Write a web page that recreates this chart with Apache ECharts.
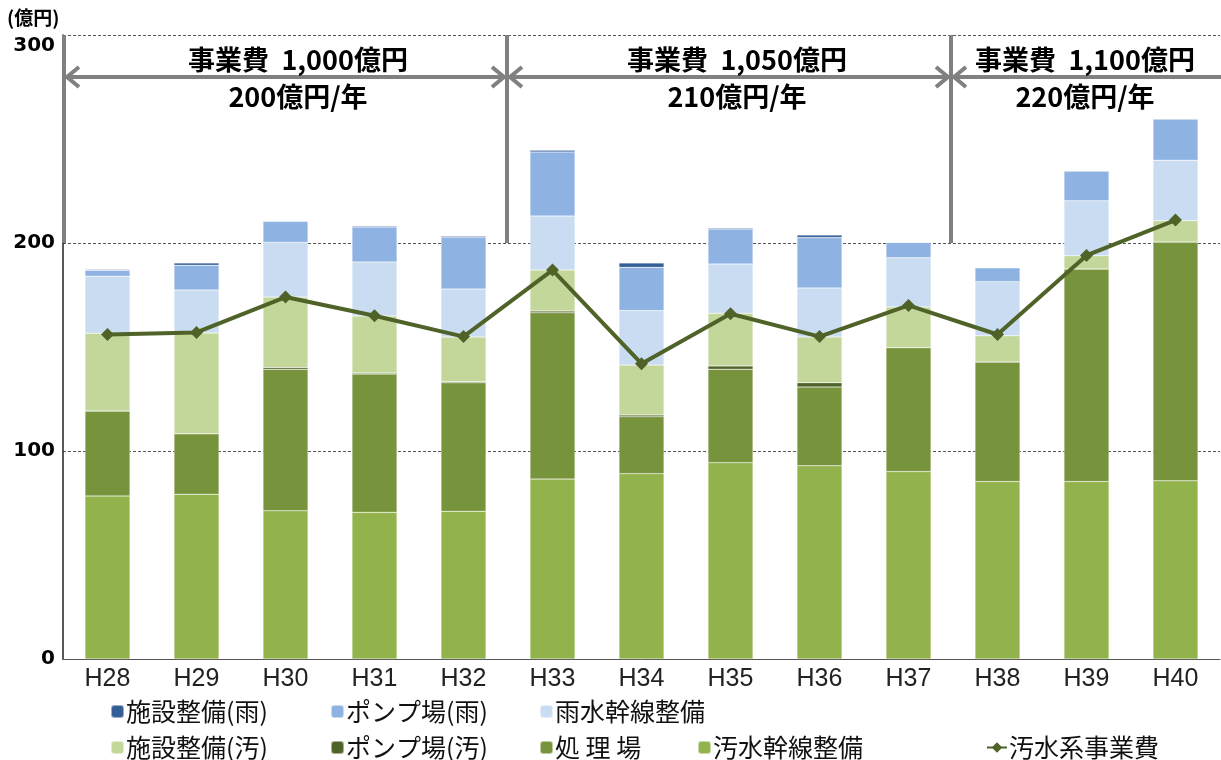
<!DOCTYPE html>
<html>
<head>
<meta charset="utf-8">
<script src="https://cdn.jsdelivr.net/npm/echarts@6/dist/echarts.min.js"></script>
<style>html,body{margin:0;padding:0;background:#fff;}#c{width:1221px;height:760px;}</style>
</head>
<body>
<div id="c"></div>
<script>
const categories = ['H28','H29','H30','H31','H32','H33','H34','H35','H36','H37','H38','H39','H40'];
const yTicks = [0, 100, 200, 300];
const sewerTrunk   = [78.4, 79.2, 71.3, 70.5, 71.0, 86.5, 89.1, 94.4, 92.9, 90.1, 85.3, 85.3, 85.7]; // 汚水幹線整備
const treatment    = [40.8, 29.1, 68.0, 66.5, 61.8, 80.0, 27.4, 44.9, 37.9, 59.6, 57.5, 102.2, 114.8]; // 処理場
const pumpSewer    = [0, 0, 0.8, 0.5, 0.5, 0.8, 0.8, 1.6, 2.0, 0, 0, 0, 0]; // ポンプ場(汚)
const facSewer     = [37.4, 48.4, 33.9, 27.4, 21.5, 19.7, 24.0, 25.3, 22.0, 19.5, 12.6, 6.4, 10.2]; // 施設整備(汚)
const rainTrunk    = [27.4, 20.7, 26.3, 26.0, 23.1, 26.0, 26.2, 23.7, 23.6, 23.7, 26.0, 26.4, 29.1]; // 雨水幹線整備
const pumpRain     = [2.9, 11.9, 10.1, 16.8, 24.8, 30.8, 20.8, 16.8, 24.2, 7.4, 6.7, 14.3, 19.8]; // ポンプ場(雨)
const facRain      = [0.4, 1.1, 0, 0.5, 0.5, 0.8, 2.1, 0.5, 1.2, 0, 0, 0, 0]; // 施設整備(雨)
const sewerTotal   = [156, 157, 174, 165, 155, 187, 142, 166, 155, 170, 156, 194, 211]; // 汚水系事業費
const periodTitles = ['事業費  1,000億円', '事業費  1,050億円', '事業費  1,100億円'];
const periodRates  = ['200億円/年', '210億円/年', '220億円/年'];

const JP = '"Noto Sans CJK JP", "Noto Sans", sans-serif';
const chart = echarts.init(document.getElementById('c'));

function bar(name, data, color) {
  return { name, type: 'bar', stack: 'total', data, barWidth: 45,
    itemStyle: { color, borderColor: 'rgba(255,255,255,0.5)', borderWidth: 0.5 }, z: 2 };
}

const legendDefs = [
  ['施設整備(雨)', 105, 694], ['ポンプ場(雨)', 325, 694], ['雨水幹線整備', 534, 694],
  ['施設整備(汚)', 105, 730], ['ポンプ場(汚)', 325, 730], ['処 理 場', 534, 730],
  ['汚水幹線整備', 692, 730], ['汚水系事業費', 981, 730]
];
const legends = legendDefs.map(([n, l, t]) => ({
  data: [n], left: l, top: t, itemWidth: n === '汚水系事業費' ? 20 : 13, itemHeight: 13,
  textStyle: { fontFamily: JP, fontSize: 25, color: '#111', padding: [0, 0, 0, -3] },
  selectedMode: false
}));

// annotation graphics
const gray = '#808080';
const g = [];
const vx = [64, 507, 951];
vx.forEach(x => g.push({ type: 'line', shape: { x1: x, y1: 35, x2: x, y2: 243 }, style: { stroke: gray, lineWidth: 4 }, z: 10 }));
const arrows = [[66, 505, true, true], [509, 949, true, true], [953, 1221, true, false]];
const ay = 77;
arrows.forEach(([a, b, la, ra]) => {
  g.push({ type: 'line', shape: { x1: a, y1: ay, x2: b, y2: ay }, style: { stroke: gray, lineWidth: 4 }, z: 10 });
  if (la) g.push({ type: 'polyline', shape: { points: [[a + 13, ay - 10], [a + 1, ay], [a + 13, ay + 10]] }, style: { stroke: gray, lineWidth: 4, fill: null }, z: 10 });
  if (ra) g.push({ type: 'polyline', shape: { points: [[b - 13, ay - 10], [b - 1, ay], [b - 13, ay + 10]] }, style: { stroke: gray, lineWidth: 4, fill: null }, z: 10 });
});
const tx = [298, 737, 1085];
tx.forEach((x, i) => {
  g.push({ type: 'text', x, y: 60, style: { text: periodTitles[i], font: 'bold 27px ' + JP, fill: '#000', align: 'center', verticalAlign: 'middle' }, z: 11 });
  g.push({ type: 'text', x, y: 97, style: { text: periodRates[i], font: 'bold 27px ' + JP, fill: '#000', align: 'center', verticalAlign: 'middle' }, z: 11 });
});
g.push({ type: 'text', x: 7, y: 18, style: { text: '(億円)', font: 'bold 19px ' + JP, fill: '#000', verticalAlign: 'middle' } });

chart.setOption({
  animation: false,
  backgroundColor: '#fff',
  grid: { left: 63, right: 1, top: 35, bottom: 101 },
  legend: legends,
  xAxis: {
    type: 'category', data: categories,
    axisLine: { lineStyle: { color: '#555', width: 1 } },
    axisTick: { show: false },
    axisLabel: { fontFamily: '"Liberation Sans", Arial, sans-serif', fontSize: 25, color: '#222', margin: 8 }
  },
  yAxis: {
    type: 'value', min: yTicks[0], max: yTicks[yTicks.length - 1], interval: 100,
    axisLine: { show: true, lineStyle: { color: '#222', width: 1.5 } },
    axisTick: { show: false },
    splitLine: { lineStyle: { color: '#555', type: [3, 2], width: 1 } },
    axisLabel: {
      fontFamily: '"DejaVu Sans", sans-serif', fontWeight: 'bold', fontSize: 20, color: '#000', margin: 8,
      formatter: v => v === 300 ? '{t|300}' : String(v),
      rich: { t: { fontFamily: '"DejaVu Sans", sans-serif', fontWeight: 'bold', fontSize: 20, color: '#000', padding: [22, 0, 0, 0] } }
    }
  },
  series: [
    bar('汚水幹線整備', sewerTrunk, '#92B34B'),
    bar('処 理 場', treatment, '#77933C'),
    bar('ポンプ場(汚)', pumpSewer, '#4F6228'),
    bar('施設整備(汚)', facSewer, '#C4D79B'),
    bar('雨水幹線整備', rainTrunk, '#C9DCF1'),
    bar('ポンプ場(雨)', pumpRain, '#8EB3E2'),
    bar('施設整備(雨)', facRain, '#345E96'),
    { name: '汚水系事業費', type: 'line', data: sewerTotal,
      lineStyle: { color: '#4F6228', width: 4 }, itemStyle: { color: '#4F6228' },
      symbol: 'diamond', symbolSize: 13, z: 5 }
  ],
  graphic: g
});
</script>
</body>
</html>
